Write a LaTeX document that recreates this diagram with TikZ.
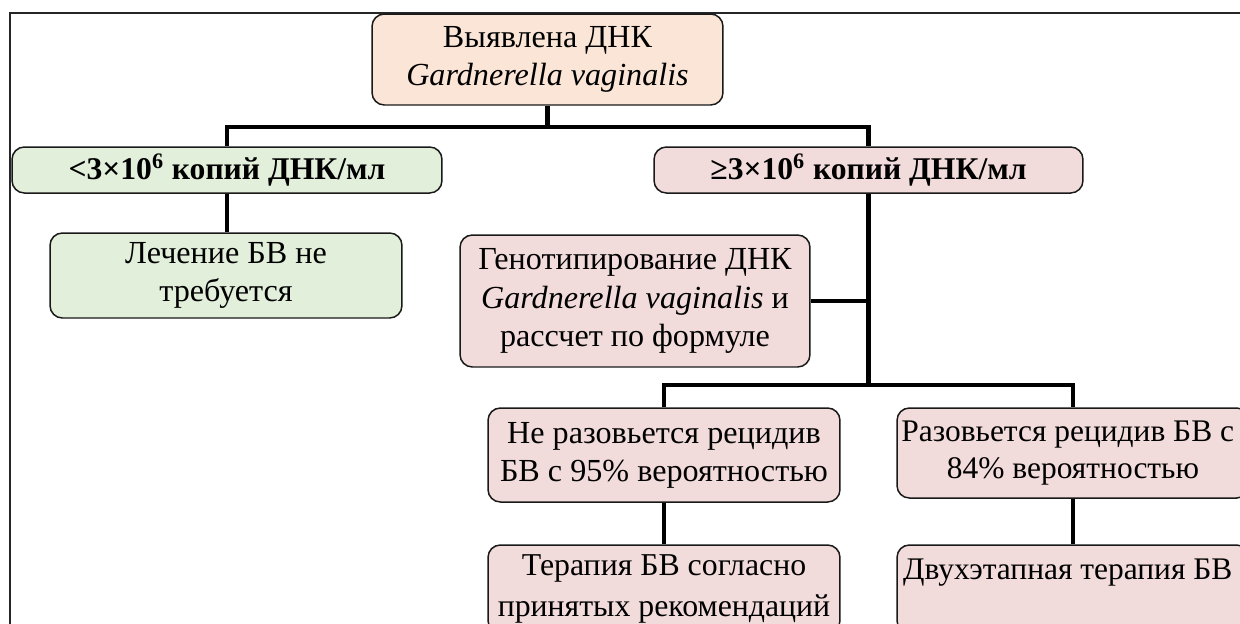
\documentclass[tikz,border=0pt]{standalone}
\usepackage{fontspec}
\setmainfont{Liberation Serif}
\definecolor{peach}{HTML}{FBE5D6}
\definecolor{lgreen}{HTML}{E2EFDA}
\definecolor{lpink}{HTML}{F2DCDB}
\tikzset{
  box/.style={draw=black!90, line width=0.85pt, rounded corners=7pt, align=center,
    inner sep=0pt, font=\fontsize{18.3}{21.5}\selectfont},
  conn/.style={line width=2.8pt, line join=miter},
}
\begin{document}
\begin{tikzpicture}[x=0.02cm,y=-0.02cm]
\useasboundingbox (0,0) rectangle (1240,623);
\clip (0,0) rectangle (1240,623);
% frame
\draw[line width=0.8pt, black!85] (10,700) -- (10,13) -- (1300,13);
% nodes
\node[box, fill=peach, minimum width=7.02cm, minimum height=1.82cm] (top) at (547.5,59.5)
  {Выявлена ДНК\\\textit{Gardnerella vaginalis}};
\node[box, fill=lgreen, minimum width=8.6cm, minimum height=0.92cm, font=\fontsize{18}{21.5}\selectfont\bfseries] (g1) at (227,170)
  {<3×10\textsuperscript{6} копий ДНК/мл};
\node[box, fill=lpink, minimum width=8.58cm, minimum height=0.92cm, font=\fontsize{18}{21.5}\selectfont\bfseries] (p1) at (868.5,170)
  {≥3×10\textsuperscript{6} копий ДНК/мл};
\node[box, fill=lgreen, minimum width=7.04cm, minimum height=1.7cm] (lech) at (226,275.5)
  {Лечение БВ не\\требуется};
\node[box, fill=lpink, minimum width=7.0cm, minimum height=2.64cm, font=\fontsize{18.3}{21.8}\selectfont] (geno) at (635,301)
  {Генотипирование ДНК\\\textit{Gardnerella vaginalis} и\\рассчет по формуле};
\node[box, fill=lpink, minimum width=7.04cm, minimum height=1.88cm] (ne) at (664,455)
  {Не разовьется рецидив\\БВ с 95\% вероятностью};
\node[box, fill=lpink, minimum width=7.04cm, minimum height=1.8cm, font=\fontsize{17.9}{21.5}\selectfont] (raz) at (1073,453)
  {\hspace*{-6pt}Разовьется рецидив БВ с\\84\% вероятностью};
\node[box, fill=lpink, minimum width=7.04cm, minimum height=1.76cm, font=\fontsize{18.1}{23}\selectfont] (ter) at (664,589)
  {Терапия БВ согласно\\принятых рекомендаций};
\node[box, fill=lpink, minimum width=7.04cm, minimum height=1.76cm, font=\fontsize{17.9}{23}\selectfont] (dvu) at (1073,589)
  {\hspace*{-6pt}Двухэтапная терапия БВ\\\mbox{}};
% junctions
\coordinate (j1) at (547.5,127);
\coordinate (j2) at (868.5,385);
% connectors
\draw[conn] (top.south) -- (j1);
\draw[conn] (g1.north) |- (j1) -| (p1.north);
\draw[conn] (g1.south) -- (g1.south |- lech.north);
\draw[conn] (p1.south) -- (j2);
\draw[conn] (geno.east) -- (geno.east -| p1.south);
\draw[conn] (ne.north) |- (j2) -| (raz.north);
\draw[conn] (ne.south) -- (ter.north);
\draw[conn] (raz.south) -- (dvu.north);
\end{tikzpicture}
\end{document}
